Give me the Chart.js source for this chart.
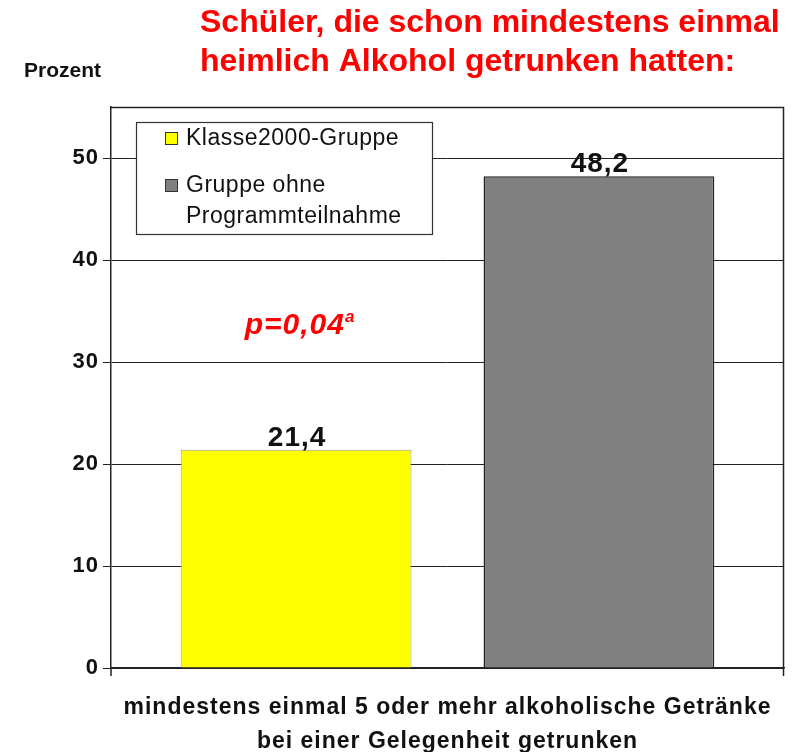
<!DOCTYPE html>
<html>
<head>
<meta charset="utf-8">
<script src="https://cdn.jsdelivr.net/npm/chart.js@4.4.1/dist/chart.umd.min.js"></script>
<style>
  html, body { margin: 0; padding: 0; background: #fff; }
  #wrap { width: 792px; height: 752px; position: relative; }
</style>
</head>
<body>
<div id="wrap"><canvas id="chart" width="792" height="752"></canvas></div>
<script>
// Daten
const categories = [['mindestens einmal 5 oder mehr alkoholische Getränke', 'bei einer Gelegenheit getrunken']];
const seriesNames = ['Klasse2000-Gruppe', 'Gruppe ohne Programmteilnahme'];
const legendLines = [['Klasse2000-Gruppe'], ['Gruppe ohne', 'Programmteilnahme']];
const klasse2000 = [21.4];
const ohneProgramm = [48.2];
const yTicks = [0, 10, 20, 30, 40, 50];
const titleLines = ['Schüler, die schon mindestens einmal', 'heimlich Alkohol getrunken hatten:'];
const pValue = 'p=0,04';
const pSup = 'a';

const FONT = '"Liberation Sans", Arial, sans-serif';

// etwas Sperrung für die Achsenbeschriftung
const spacing = {
    id: 'spacing',
    beforeUpdate(chart) { chart.ctx.letterSpacing = '1px'; },
    beforeDraw(chart) { chart.ctx.letterSpacing = '1px'; }
};

// Titel, Achsentitel, Rahmen, Legende, Werte
const extras = {
    id: 'extras',
    afterDatasetsDraw(chart) {
        const ctx = chart.ctx;
        const area = chart.chartArea;
        const y = chart.scales.y;
        ctx.save();

        // Rahmen oben / rechts
        ctx.strokeStyle = '#222';
        ctx.lineWidth = 1.5;
        ctx.beginPath();
        ctx.moveTo(area.left, area.top + 0.5);
        ctx.lineTo(area.right - 0.5, area.top + 0.5);
        ctx.lineTo(area.right - 0.5, area.bottom + 8);
        ctx.stroke();
        ctx.beginPath();
        ctx.moveTo(area.left, area.bottom);
        ctx.lineTo(area.left, area.bottom + 8);
        ctx.stroke();

        // Werte über den Balken
        ctx.letterSpacing = '1px';
        ctx.fillStyle = '#111';
        ctx.font = 'bold 28px ' + FONT;
        ctx.textAlign = 'center';
        ctx.textBaseline = 'alphabetic';
        chart.data.datasets.forEach((ds, i) => {
            chart.getDatasetMeta(i).data.forEach((bar, j) => {
                ctx.fillText(ds.data[j].toFixed(1).replace('.', ','), bar.x + 1, bar.y - 4);
            });
        });

        // p-Wert
        const firstBar = chart.getDatasetMeta(0).data[0];
        ctx.fillStyle = '#ff0000';
        ctx.font = 'italic bold 30px ' + FONT;
        const pw = ctx.measureText(pValue).width;
        ctx.font = 'italic bold 17px ' + FONT;
        const sw = ctx.measureText(pSup).width;
        const px = firstBar.x + 4 - (pw + sw) / 2;
        const py = y.getPixelForValue(33.8) + 11;
        ctx.textAlign = 'left';
        ctx.font = 'italic bold 30px ' + FONT;
        ctx.fillText(pValue, px, py);
        ctx.font = 'italic bold 17px ' + FONT;
        ctx.fillText(pSup, px + pw, py - 12);

        // Legende
        const lx = area.left + 25, ly = area.top + 15;
        ctx.fillStyle = '#fff';
        ctx.fillRect(lx, ly, 296, 112);
        ctx.strokeStyle = '#333';
        ctx.lineWidth = 1.2;
        ctx.strokeRect(lx + 0.5, ly + 0.5, 296, 112);
        ctx.font = '23px ' + FONT;
        ctx.letterSpacing = '0.5px';
        ctx.textBaseline = 'middle';
        const rowY = [ly + 16, ly + 63];
        chart.data.datasets.forEach((ds, i) => {
            ctx.fillStyle = ds.backgroundColor;
            ctx.strokeStyle = '#333';
            ctx.lineWidth = 1;
            ctx.fillRect(lx + 29, rowY[i] - 6, 12, 12);
            ctx.strokeRect(lx + 29.5, rowY[i] - 5.5, 12, 12);
            ctx.fillStyle = '#111';
            legendLines[i].forEach((t, k) => {
                ctx.fillText(t, lx + 50, rowY[i] + 1 + k * 31);
            });
        });

        // Titel
        ctx.letterSpacing = '0px';
        ctx.fillStyle = '#ff0000';
        ctx.font = 'bold 32px ' + FONT;
        ctx.textAlign = 'left';
        ctx.textBaseline = 'middle';
        ctx.fillText(titleLines[0], 200, 23);
        ctx.fillText(titleLines[1], 200, 62);

        // Achsentitel
        ctx.fillStyle = '#111';
        ctx.font = 'bold 21px ' + FONT;
        ctx.fillText('Prozent', 24, 71);

        ctx.restore();
    }
};

new Chart(document.getElementById('chart'), {
    type: 'bar',
    data: {
        labels: categories,
        datasets: [{
            label: seriesNames[0],
            data: klasse2000,
            backgroundColor: '#ffff00',
            borderColor: '#9a9a9a',
            borderWidth: 1,
            borderSkipped: 'bottom'
        }, {
            label: seriesNames[1],
            data: ohneProgramm,
            backgroundColor: '#808080',
            borderColor: '#222',
            borderWidth: 1.5,
            borderSkipped: 'bottom'
        }]
    },
    options: {
        responsive: false,
        animation: false,
        devicePixelRatio: 1,
        layout: { padding: { top: 107, right: 8, left: 0, bottom: 0 } },
        plugins: {
            legend: { display: false },
            tooltip: { enabled: false }
        },
        datasets: {
            bar: { categoryPercentage: 0.9, barPercentage: 0.762 }
        },
        scales: {
            x: {
                grid: { display: false, drawTicks: false },
                border: { color: '#222', width: 1.5 },
                ticks: {
                    color: '#111',
                    font: { family: FONT, size: 23, weight: 'bold', lineHeight: 1.48 },
                    padding: 23,
                    maxRotation: 0
                },
                afterFit(scale) {
                    scale.height = 84;
                    scale.paddingLeft = 0;
                    scale.paddingRight = 0;
                }
            },
            y: {
                min: 0,
                max: 55,
                afterBuildTicks(scale) { scale.ticks = yTicks.map(v => ({ value: v })); },
                grid: { color: '#222', lineWidth: 1, tickLength: 8 },
                border: { color: '#222', width: 1.5 },
                ticks: {
                    color: '#111',
                    font: { family: FONT, size: 22, weight: 'bold' },
                    padding: 4
                },
                afterFit(scale) { scale.width = 111; }
            }
        }
    },
    plugins: [spacing, extras]
});
</script>
</body>
</html>
